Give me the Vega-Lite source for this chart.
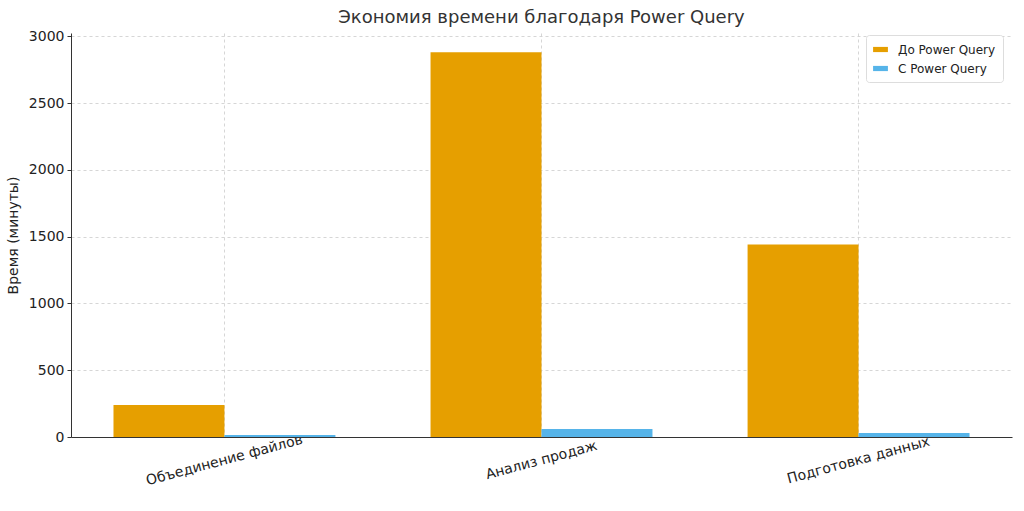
{
  "$schema": "https://vega.github.io/schema/vega-lite/v6.json",
  "autosize": {"type": "none"},
  "width": 941,
  "height": 404,
  "padding": {"left": 71, "top": 33, "right": 12, "bottom": 74},
  "background": "white",
  "title": {"text": "Экономия времени благодаря Power Query", "fontSize": 18, "fontWeight": "normal", "font": "DejaVu Sans", "color": "#333333", "offset": 2},
  "data": {"values": [
    {"task": "Объединение файлов", "series": "До Power Query", "minutes": 240},
    {"task": "Объединение файлов", "series": "С Power Query", "minutes": 15},
    {"task": "Анализ продаж", "series": "До Power Query", "minutes": 2880},
    {"task": "Анализ продаж", "series": "С Power Query", "minutes": 60},
    {"task": "Подготовка данных", "series": "До Power Query", "minutes": 1440},
    {"task": "Подготовка данных", "series": "С Power Query", "minutes": 30}
  ]},
  "mark": {"type": "bar"},
  "encoding": {
    "x": {
      "field": "task", "type": "nominal", "sort": null,
      "scale": {"paddingInner": 0.3, "paddingOuter": 0.134},
      "axis": {"title": null, "labelAngle": -15, "labelAlign": "center", "labelBaseline": "middle", "labelFontSize": 14, "labelFont": "DejaVu Sans", "labelColor": "#222222", "labelPadding": 23, "ticks": false, "grid": true, "gridDash": [3, 3], "gridColor": "#cccccc", "domainColor": "#333333", "domainWidth": 1}
    },
    "xOffset": {"field": "series", "type": "nominal", "scale": {"paddingInner": 0, "paddingOuter": 0}},
    "y": {
      "field": "minutes", "type": "quantitative",
      "scale": {"domain": [0, 3024], "nice": false, "zero": true},
      "axis": {"title": "Время (минуты)", "format": "d", "values": [0, 500, 1000, 1500, 2000, 2500, 3000], "labelFontSize": 14, "labelFont": "DejaVu Sans", "labelColor": "#222222", "titleFontSize": 14, "titleFont": "DejaVu Sans", "titleFontWeight": "normal", "titleColor": "#222222", "titlePadding": 8, "tickSize": 4, "tickColor": "#333333", "grid": true, "gridDash": [3, 3], "gridColor": "#cccccc", "domainColor": "#333333", "labelPadding": 3}
    },
    "color": {
      "field": "series", "type": "nominal",
      "scale": {"domain": ["До Power Query", "С Power Query"], "range": ["#E69F00", "#56B4E9"]},
      "legend": {"title": null, "orient": "none", "legendX": 795, "legendY": 2, "symbolType": "M-1,-0.35L1,-0.35L1,0.35L-1,0.35Z", "symbolSize": 220, "symbolStrokeWidth": 0, "labelFontSize": 12, "labelFont": "DejaVu Sans", "labelColor": "#222222", "labelOffset": 10, "strokeColor": "#dddddd", "cornerRadius": 3, "padding": 7, "fillColor": "white", "rowPadding": 5}
    }
  },
  "config": {"view": {"stroke": null}, "axis": {"gridOpacity": 0.8}}
}
